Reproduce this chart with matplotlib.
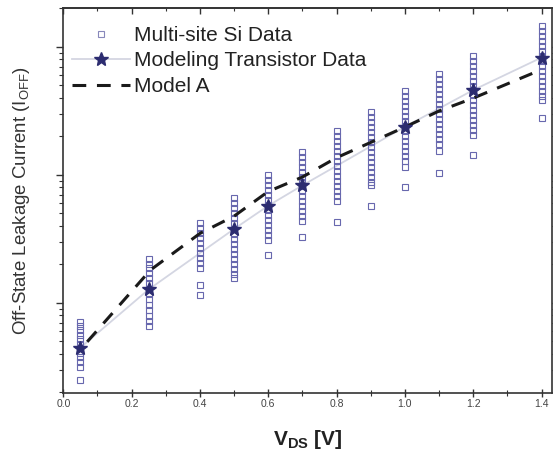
import matplotlib
matplotlib.use("Agg")
import matplotlib.pyplot as plt
from matplotlib.ticker import MultipleLocator, LogLocator, NullFormatter, FormatStrFormatter
from matplotlib.lines import Line2D

plt.rcParams['font.family'] = ['Liberation Sans', 'DejaVu Sans']

# ---- data ----
vds_columns = [0.05, 0.25, 0.4, 0.5, 0.6, 0.7, 0.8, 0.9, 1.0, 1.1, 1.2, 1.4]
ioff_sites = [
    [7.11e-10, 6.58e-10, 6.07e-10, 5.60e-10, 5.16e-10, 4.76e-10, 4.42e-10, 4.08e-10, 3.77e-10, 3.47e-10, 3.16e-10, 2.49e-10],
    [2.18e-9, 2.00e-9, 1.86e-9, 1.70e-9, 1.55e-9, 1.42e-9, 1.27e-9, 1.16e-9, 1.06e-9, 9.6e-10, 8.77e-10, 7.87e-10, 7.19e-10, 6.58e-10],
    [4.17e-9, 3.84e-9, 3.51e-9, 3.20e-9, 2.92e-9, 2.67e-9, 2.44e-9, 2.23e-9, 2.04e-9, 1.87e-9, 1.37e-9, 1.15e-9],
    [6.58e-9, 6.01e-9, 5.50e-9, 5.02e-9, 4.59e-9, 4.20e-9, 3.77e-9, 3.44e-9, 3.15e-9, 2.88e-9, 2.63e-9, 2.40e-9, 2.19e-9, 2.00e-9, 1.83e-9, 1.67e-9, 1.56e-9],
    [9.95e-9, 9.10e-9, 8.32e-9, 7.59e-9, 6.93e-9, 6.34e-9, 5.79e-9, 5.30e-9, 4.84e-9, 4.43e-9, 4.05e-9, 3.70e-9, 3.38e-9, 3.09e-9, 2.36e-9],
    [1.50e-8, 1.37e-8, 1.26e-8, 1.15e-8, 1.05e-8, 9.60e-9, 8.77e-9, 8.16e-9, 7.46e-9, 6.82e-9, 6.24e-9, 5.69e-9, 5.20e-9, 4.75e-9, 4.35e-9, 3.26e-9],
    [2.19e-8, 2.00e-8, 1.83e-8, 1.67e-8, 1.53e-8, 1.40e-8, 1.28e-8, 1.17e-8, 1.07e-8, 9.77e-9, 8.93e-9, 8.16e-9, 7.46e-9, 6.82e-9, 6.24e-9, 4.27e-9],
    [3.09e-8, 2.82e-8, 2.58e-8, 2.36e-8, 2.16e-8, 1.97e-8, 1.80e-8, 1.64e-8, 1.50e-8, 1.37e-8, 1.26e-8, 1.15e-8, 1.05e-8, 9.60e-9, 8.77e-9, 8.32e-9, 5.69e-9],
    [4.51e-8, 4.12e-8, 3.77e-8, 3.44e-8, 3.15e-8, 2.88e-8, 2.63e-8, 2.40e-8, 2.19e-8, 2.00e-8, 1.83e-8, 1.67e-8, 1.53e-8, 1.40e-8, 1.28e-8, 1.15e-8, 8.02e-9],
    [6.12e-8, 5.60e-8, 5.12e-8, 4.68e-8, 4.27e-8, 3.90e-8, 3.56e-8, 3.26e-8, 2.98e-8, 2.72e-8, 2.49e-8, 2.28e-8, 2.08e-8, 1.90e-8, 1.74e-8, 1.53e-8, 1.03e-8],
    [8.45e-8, 7.73e-8, 7.06e-8, 6.46e-8, 5.90e-8, 5.40e-8, 4.93e-8, 4.59e-8, 4.20e-8, 3.84e-8, 3.51e-8, 3.20e-8, 2.92e-8, 2.67e-8, 2.44e-8, 2.23e-8, 2.04e-8, 1.43e-8],
    [1.45e-7, 1.33e-7, 1.21e-7, 1.11e-7, 1.01e-7, 9.25e-8, 8.45e-8, 7.73e-8, 7.06e-8, 6.46e-8, 5.90e-8, 5.40e-8, 4.93e-8, 4.51e-8, 4.12e-8, 3.84e-8, 2.77e-8],
]

vds_model_tr = [0.05, 0.25, 0.5, 0.6, 0.7, 1.0, 1.2, 1.4]
ioff_model_tr = [4.45e-10, 1.27e-9, 3.77e-9, 5.73e-9, 8.26e-9, 2.37e-8, 4.59e-8, 8.24e-8]

vds_model_a = [0.07, 0.255, 0.4, 0.5, 0.6, 0.7, 0.8, 0.9, 1.0, 1.1, 1.2, 1.4]
ioff_model_a = [4.95e-10, 1.80e-9, 3.48e-9, 4.75e-9, 7.40e-9, 9.6e-9, 1.36e-8, 1.79e-8, 2.36e-8, 3.15e-8, 3.97e-8, 6.64e-8]

x_ticks = [0.0, 0.2, 0.4, 0.6, 0.8, 1.0, 1.2, 1.4]

# ---- figure ----
fig = plt.figure(figsize=(5.53, 4.51), dpi=100)
ax = fig.add_axes([0.1145, 0.1293, 0.8845, 0.8523])

sq_color = '#6868ae'
star_color = '#2c2c70'
tick_color = '#333333'

for xv, ys in zip(vds_columns, ioff_sites):
    ax.plot([xv] * len(ys), ys, linestyle='none', marker='s', markersize=4.4,
            markerfacecolor='none', markeredgecolor=sq_color, markeredgewidth=0.8, zorder=2)

ax.plot(vds_model_tr, ioff_model_tr, color='#d4d6e2', linewidth=1.3, zorder=1)
ax.plot(vds_model_tr, ioff_model_tr, linestyle='none', marker='*', markersize=10,
        color=star_color, zorder=4)
ax.plot(vds_model_a, ioff_model_a, color='#1a1a1a', linestyle=(0, (4.5, 3.5)), linewidth=2.2, zorder=3)

ax.set_yscale('log')
ax.set_xlim(0, 1.432)
ax.set_ylim(1.98e-10, 2.0e-7)

ax.set_xticks(x_ticks)
ax.xaxis.set_major_formatter(FormatStrFormatter('%.1f'))
ax.xaxis.set_minor_locator(MultipleLocator(0.1))
ax.yaxis.set_major_locator(LogLocator(base=10))
ax.yaxis.set_minor_locator(LogLocator(base=10, subs=range(2, 10)))
ax.yaxis.set_major_formatter(NullFormatter())
ax.yaxis.set_minor_formatter(NullFormatter())

ax.tick_params(axis='x', which='major', direction='inout', length=6, width=1, color=tick_color,
               labelsize=7.5, labelcolor='#444444', pad=1.5)
ax.tick_params(axis='x', which='minor', direction='inout', length=4, width=0.8, color=tick_color)
ax.tick_params(axis='y', which='major', direction='out', length=5, width=1, color=tick_color)
ax.tick_params(axis='y', which='minor', direction='out', length=3, width=0.8, color=tick_color)
ax.tick_params(axis='y', which='both', right=True)

# top axis ticks pointing inward
top = ax.secondary_xaxis('top')
top.set_xticks(x_ticks)
top.xaxis.set_minor_locator(MultipleLocator(0.1))
top.xaxis.set_major_formatter(NullFormatter())
top.tick_params(which='major', direction='in', length=4, width=1, color=tick_color)
top.tick_params(which='minor', direction='in', length=2.5, width=0.8, color=tick_color)
top.spines['top'].set_linewidth(1.2)
top.spines['top'].set_color(tick_color)

for s in ax.spines.values():
    s.set_linewidth(1.2)
    s.set_color(tick_color)

ax.set_xlabel('V$_{\\mathregular{DS}}$ [V]', fontsize=15, fontweight='bold', color='#222222', labelpad=14)
ax.set_ylabel('Off-State Leakage Current (I$_{\\mathregular{OFF}}$)', fontsize=13.4, color='#333333', labelpad=14)

handles = [
    Line2D([], [], linestyle='none', marker='s', markersize=4.4, markerfacecolor='none',
           markeredgecolor='#8888bb', markeredgewidth=0.8),
    Line2D([], [], color='#d4d6e2', linewidth=1.3, marker='*', markersize=10,
           markerfacecolor=star_color, markeredgecolor=star_color),
    Line2D([], [], color='#1a1a1a', linestyle=(0, (4.5, 3.5)), linewidth=2.2),
]
labels = ['Multi-site Si Data', 'Modeling Transistor Data', 'Model A']
ax.legend(handles, labels, loc='upper left', frameon=False, fontsize=15,
          handlelength=2.8, handletextpad=0.15, labelspacing=0.31,
          bbox_to_anchor=(0.018, 0.954), borderaxespad=0, borderpad=0, labelcolor='#222222')

fig.savefig('out.png', dpi=100)
